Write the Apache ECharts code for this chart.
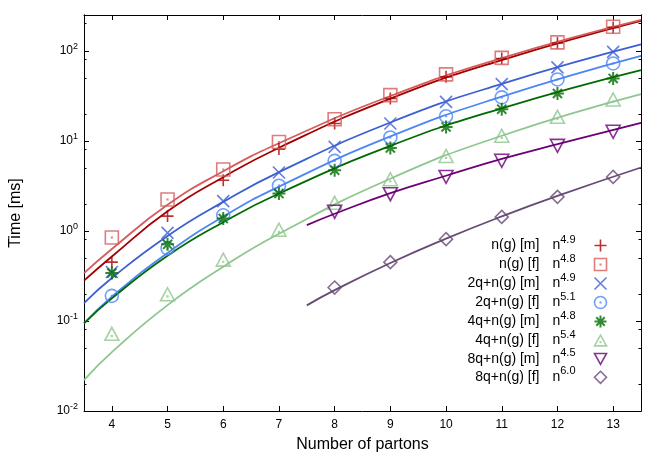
<!DOCTYPE html>
<html>
<head>
<meta charset="utf-8">
<script src="https://cdn.jsdelivr.net/npm/echarts@6/dist/echarts.min.js"></script>
<style>
  html, body { margin: 0; padding: 0; background: #fff; }
  #containerC { width: 664px; height: 465px; }
</style>
</head>
<body>
<div id="containerC"></div>
<script>
var partons = [4, 5, 6, 7, 8, 9, 10, 11, 12, 13];
var partons8 = [8, 9, 10, 11, 12, 13];
var ngM = [0.45, 1.46, 3.66, 8.1, 15.6, 29.6, 51.4, 82, 122, 182];
var ngF = [0.845, 2.23, 4.81, 9.7, 17.4, 32.2, 54.7, 83.6, 124, 185];
var q2M = [0.35, 0.95, 2.14, 4.45, 8.58, 15.6, 27.1, 42.7, 65.4, 97.5];
var q2F = [0.19, 0.64, 1.49, 3.18, 6.0, 10.9, 18.8, 30.4, 48.1, 72.4];
var q4M = [0.34, 0.71, 1.37, 2.6, 4.73, 8.36, 14.3, 22.5, 33.6, 49.4];
var q4F = [0.072, 0.198, 0.48, 1.03, 2.05, 3.75, 6.81, 11.4, 18.5, 28.8];
var q8M = [1.63, 2.56, 3.98, 6.0, 8.8, 12.6];
var q8F = [0.235, 0.45, 0.81, 1.43, 2.39, 3.98];

// fit curves, sampled off the plot
var fitX = [3.5, 4, 5, 6, 7, 9, 11, 13.5];
var fitNgM = [0.28, 0.52, 1.65, 3.95, 8.4, 29.5, 79, 215];
var fitNgF = [0.34, 0.63, 1.95, 4.6, 9.4, 31.5, 83, 220];
var fitQ2M = [0.158, 0.30, 0.88, 2.1, 4.5, 16, 43, 118];
var fitQ2F = [0.094, 0.186, 0.57, 1.44, 3.1, 11.2, 31, 88];
var fitQ4M = [0.094, 0.178, 0.53, 1.25, 2.6, 8.8, 23, 61];
var fitQ4F = [0.022, 0.045, 0.15, 0.40, 0.93, 3.8, 11.4, 33];
var fitX8 = [7.5, 8, 9, 10, 11, 12, 13.5];
var fitQ8M = [1.16, 1.55, 2.63, 4.1, 6.3, 9.2, 15.8];
var fitQ8F = [0.149, 0.22, 0.44, 0.82, 1.45, 2.45, 5.06];

var names = ['n(g) [m]', 'n(g) [f]', '2q+n(g) [m]', '2q+n(g) [f]', '4q+n(g) [m]', '4q+n(g) [f]', '8q+n(g) [m]', '8q+n(g) [f]'];
var exponents = ['4.9', '4.8', '4.9', '5.1', '4.8', '5.4', '4.5', '6.0'];

// tick positions
var xTicks = [4, 5, 6, 7, 8, 9, 10, 11, 12, 13];
var yMajor = [0.01, 0.1, 1, 10, 100];
var yMinor = [0.02, 0.05, 0.08, 0.2, 0.5, 0.8, 2, 5, 8, 20, 50, 80, 200];

var colors = ['#a40000', '#d45c5c', '#3c5fd2', '#4c86f6', '#006a00', '#8fc68f', '#6c0076', '#684a76'];
var symbols = [
    'path://M0,5 L10,5 M5,0 L5,10',
    'path://M0,0 L10,0 L10,10 L0,10 Z M4.8,4.8 L5.2,4.8 L5.2,5.2 L4.8,5.2 Z',
    'path://M0,0 L10,10 M10,0 L0,10',
    'path://M5,0 A5,5 0 1,1 5,10 A5,5 0 1,1 5,0 Z M4.8,4.8 L5.2,4.8 L5.2,5.2 L4.8,5.2 Z',
    'path://M5,0 L5,10 M0,5 L10,5 M1.5,1.5 L8.5,8.5 M8.5,1.5 L1.5,8.5',
    'path://M5,0 L10,9 L0,9 Z M4.8,5.8 L5.2,5.8 L5.2,6.2 L4.8,6.2 Z',
    'path://M0,0 L10,0 L5,9 Z',
    'path://M5,0 L10,5 L5,10 L0,5 Z'
];
var symbolSizes = [12, 13, 12, 13, 13, [14, 13], [14, 13], 13];
var strokeWidths = [1.6, 1.6, 1.6, 1.6, 2, 1.6, 1.6, 1.6];

var font = 'Liberation Sans, Arial, sans-serif';

function pairs(xs, ys) {
    return xs.map(function (x, i) { return [x, ys[i]]; });
}

var pointSets = [
    pairs(partons, ngM), pairs(partons, ngF), pairs(partons, q2M), pairs(partons, q2F),
    pairs(partons, q4M), pairs(partons, q4F), pairs(partons8, q8M), pairs(partons8, q8F)
];
var fitSets = [
    pairs(fitX, fitNgM), pairs(fitX, fitNgF), pairs(fitX, fitQ2M), pairs(fitX, fitQ2F),
    pairs(fitX, fitQ4M), pairs(fitX, fitQ4F), pairs(fitX8, fitQ8M), pairs(fitX8, fitQ8F)
];

var series = [];
fitSets.forEach(function (d, i) {
    series.push({
        name: 'fit ' + names[i],
        type: 'line',
        data: d,
        smooth: true,
        showSymbol: false,
        silent: true,
        lineStyle: { color: colors[i], width: 1.8 },
        z: 2
    });
});
pointSets.forEach(function (d, i) {
    series.push({
        name: names[i],
        type: 'scatter',
        data: d,
        symbol: symbols[i],
        symbolSize: symbolSizes[i],
        itemStyle: { color: 'none', borderColor: colors[i], borderWidth: strokeWidths[i] },
        z: 3
    });
});

var dom = document.getElementById('containerC');
var myChart = echarts.init(dom, null, { renderer: 'canvas' });

function logLabel(v) {
    var e = Math.round(Math.log10(v));
    return '{b|10}{e|' + e + '}';
}

var logRich = {
    b: { fontSize: 12, fontFamily: font, color: '#000' },
    e: { fontSize: 9, fontFamily: font, color: '#000', padding: [0, 0, 8, 0] }
};

function yAxisDef(pos, ticks, len, withLabels) {
    return {
        type: 'log',
        logBase: 10,
        position: pos,
        min: 0.01,
        max: 250,
        name: withLabels ? 'Time [ms]' : '',
        nameLocation: 'middle',
        nameGap: 60,
        nameTextStyle: { fontSize: 16, fontFamily: font, color: '#000' },
        axisLine: { show: true, lineStyle: { color: '#000', width: 1 } },
        axisTick: { show: true, inside: true, length: len, customValues: ticks, lineStyle: { color: '#000' } },
        axisLabel: withLabels ? { show: true, customValues: yMajor, formatter: logLabel, margin: 6, rich: logRich } : { show: false },
        splitLine: { show: false },
        minorTick: { show: false }
    };
}

var option = {
    animation: false,
    backgroundColor: '#fff',
    grid: { left: 82, right: 23, top: 15, bottom: 54, containLabel: false },
    xAxis: [
        {
            type: 'value',
            position: 'bottom',
            min: 3.5,
            max: 13.5,
            name: 'Number of partons',
            nameLocation: 'middle',
            nameGap: 26,
            nameTextStyle: { fontSize: 16, fontFamily: font, color: '#000' },
            axisLine: { lineStyle: { color: '#000', width: 1 } },
            axisTick: { inside: true, length: 5, customValues: xTicks, lineStyle: { color: '#000' } },
            axisLabel: { customValues: xTicks, fontSize: 12, fontFamily: font, color: '#000', margin: 8 },
            splitLine: { show: false }
        },
        {
            type: 'value',
            position: 'top',
            min: 3.5,
            max: 13.5,
            axisLine: { lineStyle: { color: '#000', width: 1 } },
            axisTick: { inside: true, length: 5, customValues: xTicks, lineStyle: { color: '#000' } },
            axisLabel: { show: false },
            splitLine: { show: false }
        }
    ],
    yAxis: [
        yAxisDef('left', yMajor, 5, true),
        yAxisDef('left', yMinor, 2.5, false),
        yAxisDef('right', yMajor, 5, false),
        yAxisDef('right', yMinor, 2.5, false)
    ],
    legend: {
        orient: 'vertical',
        right: 55,
        top: 234,
        padding: 0,
        align: 'right',
        itemWidth: 12,
        itemHeight: 12,
        itemGap: -1,
        selectedMode: false,
        data: names.map(function (nm, i) {
            return {
                name: nm,
                icon: symbols[i],
                itemStyle: { color: 'none', borderColor: colors[i], borderWidth: strokeWidths[i] }
            };
        }),
        formatter: function (nm) {
            var i = names.indexOf(nm);
            return '{a|' + nm + '}{n|n}{s|' + exponents[i] + '}';
        },
        textStyle: {
            rich: {
                a: { fontSize: 14, fontFamily: font, color: '#000' },
                n: { fontSize: 14, fontFamily: font, color: '#000', padding: [0, 0, 0, 13] },
                s: { fontSize: 11, fontFamily: font, color: '#000', padding: [0, 14, 12, 0] }
            }
        }
    },
    series: series
};

if (option && typeof option === 'object') {
    myChart.setOption(option);
}
window.addEventListener('resize', myChart.resize);
</script>
</body>
</html>
